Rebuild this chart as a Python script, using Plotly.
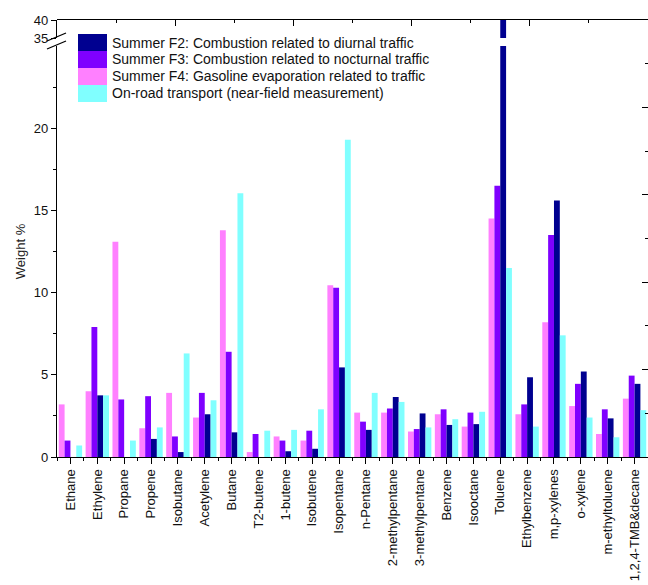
import plotly.graph_objects as go
from plotly.subplots import make_subplots

# species (x categories)
species = ["Ethane", "Ethylene", "Propane", "Propene", "Isobutane", "Acetylene",
           "Butane", "T2-butene", "1-butene", "Isobutene", "Isopentane", "n-Pentane",
           "2-methylpentane", "3-methylpentane", "Benzene", "Isooctane", "Toluene",
           "Ethylbenzene", "m,p-xylenes", "o-xylene", "m-ethyltoluene", "1,2,4-TMB&decane"]

# weight % per source profile
f4_gasoline = [3.2, 4.0, 13.1, 1.75, 3.9, 2.4, 13.8, 0.3, 1.25, 1.0, 10.45, 2.7,
               2.7, 1.55, 2.6, 1.85, 14.5, 2.6, 8.2, 3.1, 1.4, 3.55]
f3_nocturnal = [1.0, 7.9, 3.5, 3.7, 1.25, 3.9, 6.4, 1.4, 1.0, 1.6, 10.3, 2.15,
                2.95, 1.7, 2.9, 2.7, 16.5, 3.2, 13.5, 4.45, 2.9, 4.95]
f2_diurnal = [0.0, 3.75, 0.0, 1.1, 0.3, 2.6, 1.5, 0.0, 0.35, 0.5, 5.45, 1.65,
              3.65, 2.65, 1.95, 2.0, 40.0, 4.85, 15.6, 5.2, 2.35, 4.45]
onroad = [0.7, 3.75, 1.0, 1.8, 6.3, 3.45, 16.05, 1.6, 1.65, 2.9, 19.3, 3.9,
          3.35, 1.8, 2.3, 2.75, 11.5, 1.85, 7.4, 2.4, 1.2, 2.85]

# bar order inside each group, with legend position
series = [
    ("Summer F4: Gasoline evaporation related to traffic", f4_gasoline, "#FF80FF", 3),
    ("Summer F3: Combustion related to nocturnal traffic", f3_nocturnal, "#7F00FF", 2),
    ("Summer F2: Combustion related to diurnal traffic", f2_diurnal, "#000090", 1),
    ("On-road transport (near-field measurement)", onroad, "#80FFFF", 4),
]

W, H = 648, 585
L, R, T, B = 57, 0, 20, 128
PW, PH = W - L - R, H - T - B

def py(pix):  # screen row -> paper y
    return (H - B - pix) / PH

def px(pix):  # screen column -> paper x
    return (pix - L) / PW

idx = list(range(len(species)))
font = "Arial, Liberation Sans, sans-serif"

fig = make_subplots(rows=2, cols=1, shared_xaxes=True, vertical_spacing=0.0,
                    row_heights=[0.05, 0.95])

for name, vals, col, rank in series:
    for row in (1, 2):
        fig.add_trace(go.Bar(x=idx, y=vals, name=name, marker_color=col,
                             marker_line_width=0, showlegend=False), row=row, col=1)

# frame axes (top / right) of the whole plot
fig.add_trace(go.Scatter(x=[], y=[], xaxis="x3", yaxis="y3", showlegend=False,
                         hoverinfo="skip"))

axis_line = dict(showline=True, linecolor="black", linewidth=1.2)
tickf = dict(family=font, size=13, color="#111")

fig.update_layout(
    width=W, height=H,
    margin=dict(l=L, r=R, t=T, b=B),
    paper_bgcolor="white", plot_bgcolor="rgba(0,0,0,0)",
    barmode="group", bargap=0.13, bargroupgap=0.0,
    font=dict(family=font, size=13, color="#111"),
    showlegend=False,
    xaxis=dict(showline=False, ticks="", showticklabels=False, showgrid=False,
               zeroline=False, range=[-0.5, 21.5]),
    xaxis2=dict(range=[-0.5, 21.5], tickvals=idx, ticktext=species, tickangle=-90,
                ticks="outside", ticklen=6, tickwidth=1.2, tickcolor="black",
                minor=dict(tick0=0.5, dtick=1, ticks="outside", ticklen=3,
                           tickwidth=1.2, tickcolor="black"),
                showgrid=False, zeroline=False, tickfont=tickf, **axis_line),
    yaxis=dict(domain=[py(38), 1.0], range=[35, 40], tickvals=[35, 40],
               ticks="outside", ticklen=5, tickwidth=1.2, tickcolor="black",
               showgrid=False, zeroline=False, tickfont=tickf, **axis_line),
    yaxis2=dict(domain=[0.0, py(46)], range=[0, 25], tickvals=[0, 5, 10, 15, 20],
                ticks="outside", ticklen=5, tickwidth=1.2, tickcolor="black",
                minor=dict(tickvals=[2.5, 7.5, 12.5, 17.5, 22.5], ticks="outside",
                           ticklen=3, tickwidth=1.2, tickcolor="black"),
                showgrid=False, zeroline=False, tickfont=tickf,
                title=dict(text="Weight %", standoff=5,
                           font=dict(family=font, size=13, color="#222")),
                **axis_line),
    xaxis3=dict(domain=[0, 1], range=[0, 10], anchor="y3", side="top",
                showticklabels=False, ticks="inside", ticklen=6,
                tickwidth=1.2, tickcolor="black", dtick=2, tick0=0,
                minor=dict(dtick=1, ticks="inside", ticklen=3, tickwidth=1.2,
                           tickcolor="black"),
                showgrid=False, zeroline=False, fixedrange=True, **axis_line),
    yaxis3=dict(domain=[0, 1], range=[0, 10], anchor="x3", side="right",
                showticklabels=False, ticks="inside", ticklen=6, tickwidth=1.2,
                tickcolor="black", dtick=2, tick0=0,
                minor=dict(dtick=1, ticks="inside", ticklen=3, tickwidth=1.2,
                           tickcolor="black"),
                showgrid=False, zeroline=False, fixedrange=True, showline=False),
)

# axis break marks
for y0, y1 in [(41, 33), (49, 41)]:
    fig.add_shape(type="line", xref="paper", yref="paper",
                  x0=px(47), y0=py(y0), x1=px(66), y1=py(y1),
                  line=dict(color="black", width=1.3))

# legend with wide colour boxes, like the original
for name, vals, col, rank in sorted(series, key=lambda s: s[3]):
    top = 34 + 17 * (rank - 1)
    fig.add_shape(type="rect", xref="paper", yref="paper",
                  x0=px(78), x1=px(107), y0=py(top + 17), y1=py(top),
                  fillcolor=col, line_width=0)
    fig.add_annotation(xref="paper", yref="paper", x=px(110), y=py(top + 8.5),
                       text=name, showarrow=False, xanchor="left", yanchor="middle",
                       font=dict(family=font, size=14, color="#111"))

# no page margin / scrollbars, so the figure fills the window exactly
fig.write_html("out.html", config={"displayModeBar": False},
               post_script="document.body.style.margin='0';"
                           "document.body.style.overflow='hidden';")
